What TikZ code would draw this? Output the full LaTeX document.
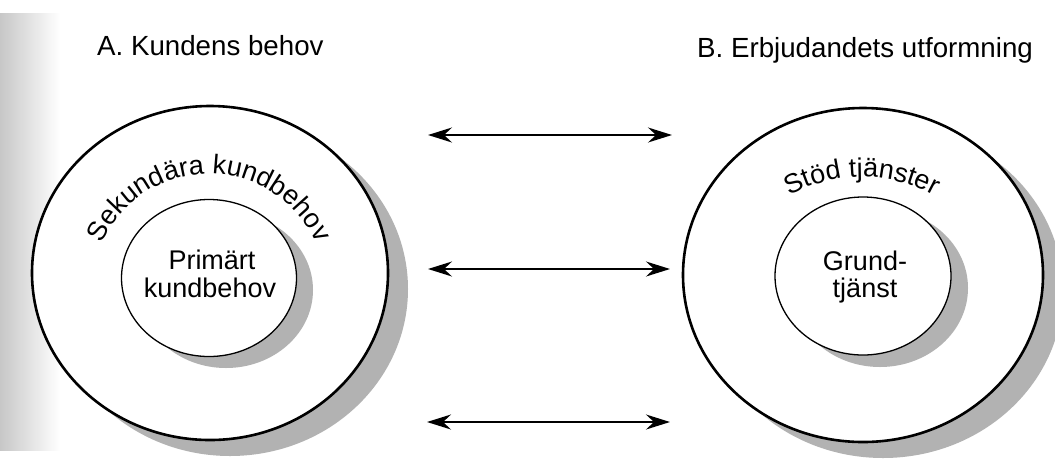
\documentclass[tikz,border=0pt]{standalone}
\usepackage{fontspec}
\setmainfont{Liberation Sans}
\usetikzlibrary{arrows.meta,decorations.text,shapes.geometric}
\tikzset{
  outerring/.style={ellipse, draw=black, line width=2.6pt, fill=white, inner sep=0pt,
    minimum width=356pt, minimum height=334pt},
  innerring/.style={ellipse, draw=black, line width=1.3pt, fill=white, inner sep=0pt,
    minimum width=175pt, minimum height=157pt},
  dropshadow/.style={fill=black!30, draw=none},
  heading/.style={anchor=base west, inner sep=0pt, font=\fontsize{27.7}{30}\selectfont},
  corelabel/.style={anchor=base, inner sep=0pt, font=\fontsize{27}{28}\selectfont},
  link/.style={line width=1.6pt,
    {Stealth[length=24pt,width=15pt,inset=8pt]}-{Stealth[length=24pt,width=15pt,inset=8pt]}},
}
\begin{document}
\begin{tikzpicture}[x=1pt,y=1pt]
\useasboundingbox (0,0) rectangle (1055,-467);
\fill[white] (0,0) rectangle (1055,-467);
% darkened binding edge of the page
\shade[left color=black!22, right color=white] (0,-13) rectangle (60,-450);

% ---- A: customer needs ----
\fill[dropshadow] (230,-289) ellipse [x radius=178, y radius=167];
\node[outerring] (needA) at (210,-273) {};
\fill[dropshadow] (226,-290) ellipse [x radius=87, y radius=78];
\node[innerring] (coreA) at (209,-278) {};
\node[corelabel] (primA) at (212,-269) {Primärt};
\node[corelabel] (primB) at (210,-297) {kundbehov};
\path[decorate, decoration={text along path, text align=center,
  text={|\fontsize{27}{28}\selectfont|Sekundära kundbehov}}]
  (209,-292) ++(153:118) arc[start angle=153, end angle=27, radius=118];
\node[heading] (titleA) at (97,-55) {A. Kundens behov};

% ---- B: offer design ----
\fill[dropshadow] (883,-291) ellipse [x radius=180, y radius=167];
\node[outerring, minimum width=360pt] (offerB) at (863,-275) {};
\fill[dropshadow] (880,-288) ellipse [x radius=88, y radius=79];
\node[innerring, minimum width=176pt, minimum height=158pt] (coreB) at (863,-276) {};
\node[corelabel] (grundA) at (865,-270) {Grund-};
\node[corelabel] (grundB) at (865,-297) {tjänst};
\path[decorate, decoration={text along path, text align=center,
  text={|\fontsize{27}{28}\selectfont|Stöd tjänster}}]
  (862,-327) ++(120:150) arc[start angle=120, end angle=60, radius=150];
\node[heading] (titleB) at (697,-57) {B. Erbjudandets utformning};

% ---- links between the two sides ----
\coordinate (l1) at (428,-135); \coordinate (r1) at (672,-135);
\coordinate (l2) at (428,-269); \coordinate (r2) at (670,-269);
\coordinate (l3) at (427,-422); \coordinate (r3) at (670,-422);
\draw[link] (l1) -- (r1);
\draw[link] (l2) -- (r2);
\draw[link] (l3) -- (r3);
\end{tikzpicture}
\end{document}
